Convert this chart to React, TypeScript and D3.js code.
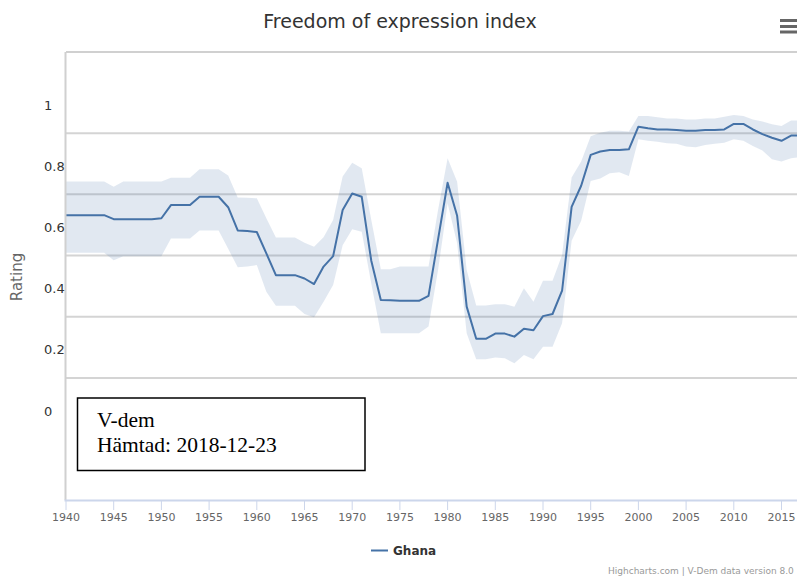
import React from "react";
import * as d3 from "d3";

const years: number[] = [];
for (let y = 1940; y <= 2017; y++) years.push(y);

const ghana: number[] = [
  0.64, 0.64, 0.64, 0.64, 0.64, 0.627, 0.627, 0.627, 0.627, 0.627,
  0.63, 0.673, 0.673, 0.673, 0.70, 0.70, 0.70, 0.666, 0.59, 0.588,
  0.585, 0.515, 0.444, 0.444, 0.444, 0.433, 0.415, 0.472, 0.506, 0.657,
  0.711, 0.70, 0.491, 0.363, 0.362, 0.36, 0.36, 0.36, 0.376, 0.561,
  0.746, 0.638, 0.341, 0.236, 0.236, 0.253, 0.253, 0.243, 0.269, 0.264,
  0.31, 0.317, 0.393, 0.667, 0.736, 0.837, 0.848, 0.853, 0.853, 0.855,
  0.929, 0.924, 0.92, 0.92, 0.918, 0.916, 0.916, 0.918, 0.918, 0.92,
  0.938, 0.938, 0.92, 0.905, 0.893, 0.883, 0.90, 0.90,
];

const ghanaHigh: number[] = [
  0.75, 0.75, 0.75, 0.75, 0.75, 0.733, 0.75, 0.75, 0.75, 0.75,
  0.75, 0.762, 0.762, 0.762, 0.79, 0.79, 0.79, 0.77, 0.698, 0.697,
  0.695, 0.63, 0.567, 0.567, 0.567, 0.55, 0.537, 0.568, 0.624, 0.766,
  0.811, 0.793, 0.624, 0.463, 0.463, 0.472, 0.472, 0.472, 0.472, 0.657,
  0.826, 0.749, 0.461, 0.345, 0.345, 0.349, 0.349, 0.341, 0.401, 0.357,
  0.426, 0.426, 0.51, 0.763, 0.815, 0.898, 0.909, 0.916, 0.916, 0.913,
  0.964, 0.964, 0.96, 0.956, 0.956, 0.953, 0.953, 0.956, 0.956, 0.962,
  0.967, 0.964, 0.953, 0.946, 0.937, 0.931, 0.949, 0.95,
];

const ghanaLow: number[] = [
  0.517, 0.517, 0.517, 0.517, 0.517, 0.493, 0.506, 0.506, 0.506, 0.506,
  0.506, 0.564, 0.564, 0.564, 0.59, 0.59, 0.59, 0.53, 0.47, 0.472,
  0.477, 0.39, 0.344, 0.344, 0.344, 0.317, 0.306, 0.357, 0.412, 0.542,
  0.594, 0.586, 0.417, 0.254, 0.254, 0.254, 0.254, 0.254, 0.276, 0.461,
  0.679, 0.548, 0.254, 0.169, 0.169, 0.175, 0.172, 0.156, 0.183, 0.169,
  0.21, 0.21, 0.287, 0.556, 0.622, 0.752, 0.76, 0.777, 0.78, 0.768,
  0.888, 0.883, 0.88, 0.875, 0.873, 0.864, 0.862, 0.869, 0.873, 0.877,
  0.888, 0.883, 0.866, 0.851, 0.823, 0.815, 0.826, 0.83,
];

const yTicks: number[] = [0, 0.2, 0.4, 0.6, 0.8, 1];
const xTicks: number[] = [1940, 1945, 1950, 1955, 1960, 1965, 1970, 1975, 1980, 1985, 1990, 1995, 2000, 2005, 2010, 2015];

const titleText = "Freedom of expression index";
const yAxisTitle = "Rating";
const seriesName = "Ghana";
const creditsText = "Highcharts.com | V-Dem data version 8.0";
const noteLines: string[] = ["V-dem", "Hämtad: 2018-12-23"];

const W = 797;
const H = 577;
const plotLeft = 66;
const plotTop = 52;
const plotBottom = 500;
const lineColor = "#4572A7";

export default function App() {
  const x = d3.scaleLinear().domain([1940, 2017]).range([plotLeft, plotLeft + 77 * 9.54]);
  const y = d3.scaleLinear().domain([0, 1]).range([411, 105]);

  const idx = years.map((_, i) => i);
  const line = d3
    .line<number>()
    .x((i) => x(years[i]))
    .y((i) => y(ghana[i]));
  const area = d3
    .area<number>()
    .x((i) => x(years[i]))
    .y0((i) => y(ghanaLow[i]))
    .y1((i) => y(ghanaHigh[i]));

  const gridOffset = 0.092;
  const sans = "'DejaVu Sans', 'Open Sans', sans-serif";

  return (
    <div style={{ position: "absolute", left: 0, top: 0 }}>
      <svg width={W} height={H} style={{ display: "block", background: "#fff" }}>
        <rect x={0} y={0} width={W} height={H} fill="#fff" />
        <text x={400} y={28} textAnchor="middle" fontFamily={sans} fontSize={19} fill="#333">
          {titleText}
        </text>
        {/* menu icon */}
        {[20.5, 26.5, 32].map((yy, i) => (
          <line key={i} x1={780} x2={797} y1={yy} y2={yy} stroke="#666" strokeWidth={3} />
        ))}

        {/* gridlines */}
        {yTicks
          .filter((t) => t > 0)
          .map((t) => (
            <line
              key={"g" + t}
              x1={plotLeft}
              x2={W}
              y1={y(t - gridOffset)}
              y2={y(t - gridOffset)}
              stroke="#d4d4d4"
              strokeWidth={2}
            />
          ))}

        {/* band */}
        <path d={area(idx) || ""} fill={lineColor} fillOpacity={0.16} stroke="none" />
        <path d={line(idx) || ""} fill="none" stroke={lineColor} strokeWidth={2} strokeLinejoin="round" />

        {/* plot border */}
        <line x1={plotLeft} x2={W} y1={plotTop} y2={plotTop} stroke="#d0d0d0" strokeWidth={2} />
        <line x1={plotLeft - 0.5} x2={plotLeft - 0.5} y1={plotTop} y2={plotBottom} stroke="#d0d0d0" strokeWidth={2} />
        <line x1={plotLeft - 1.5} x2={W} y1={plotBottom + 0.5} y2={plotBottom + 0.5} stroke="#ccd6eb" strokeWidth={2} />

        {/* x ticks */}
        {xTicks.map((t) => (
          <g key={"x" + t}>
            <line x1={x(t)} x2={x(t)} y1={plotBottom} y2={plotBottom + 10} stroke="#ccd6eb" strokeWidth={1} />
            <text x={x(t)} y={521} textAnchor="middle" fontFamily={sans} fontSize={11} fill="#666">
              {t}
            </text>
          </g>
        ))}

        {/* y labels */}
        {yTicks.map((t) => (
          <text key={"y" + t} x={44} y={y(t) + 4.5} textAnchor="start" fontFamily={sans} fontSize={13} fill="#333">
            {String(t)}
          </text>
        ))}
        <text
          transform={`translate(22,277) rotate(-90)`}
          textAnchor="middle"
          fontFamily={sans}
          fontSize={15}
          fill="#666"
        >
          {yAxisTitle}
        </text>

        {/* note box */}
        <rect x={77.5} y={398} width={287.5} height={72.5} fill="#fff" stroke="#000" strokeWidth={1.5} />
        {noteLines.map((s, i) => (
          <text
            key={"n" + i}
            x={97}
            y={427 + i * 25}
            fontFamily="'Liberation Serif', 'Times New Roman', serif"
            fontSize={21.5}
            fill="#000"
          >
            {s}
          </text>
        ))}

        {/* legend */}
        <line x1={371} x2={388} y1={550.5} y2={550.5} stroke={lineColor} strokeWidth={2} />
        <text x={393} y={555} fontFamily={sans} fontSize={12} fontWeight="bold" fill="#333">
          {seriesName}
        </text>

        {/* credits */}
        <text x={608} y={574} fontFamily={sans} fontSize={9} fill="#999">
          {creditsText}
        </text>
      </svg>
    </div>
  );
}
